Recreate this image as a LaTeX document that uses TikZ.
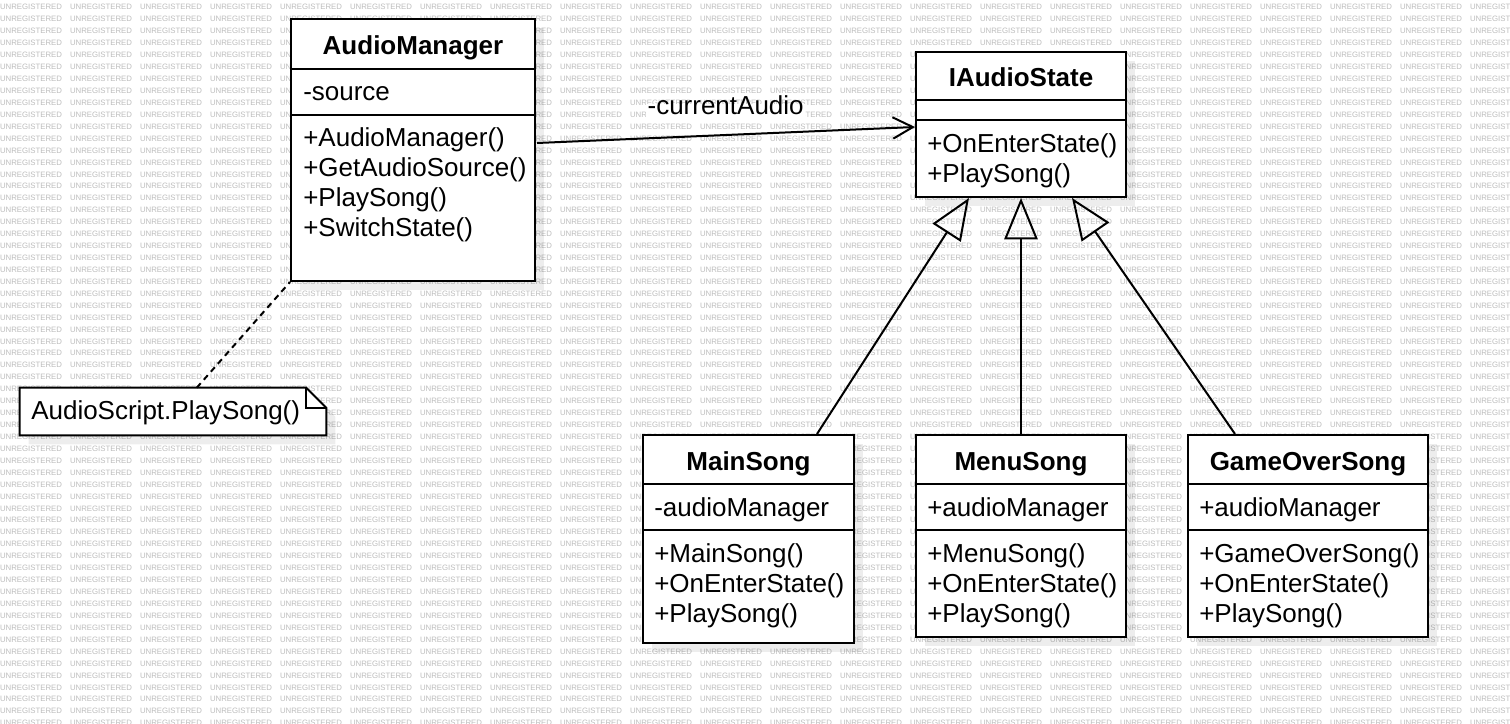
\documentclass[tikz,border=0pt]{standalone}
\usepackage{fontspec}
\setmainfont{Liberation Sans}
\usetikzlibrary{arrows.meta,fit,calc,shadows}
\begin{document}
\begin{tikzpicture}[x=0.75pt,y=-0.75pt,
  wm/.style={font=\fontsize{5.85}{6}\selectfont, text=black!26, inner sep=0pt},
  classbox/.style={draw=black, line width=1.5pt, fill=white, inner sep=0pt,
     drop shadow={shadow xshift=6.5pt, shadow yshift=-6.5pt, fill=black, opacity=0.07}},
  ttl/.style={font=\fontsize{19.5}{23}\selectfont\bfseries, inner sep=0pt, text height=0.75em, text depth=0.25em, yshift=-4.5pt},
  txt/.style={font=\fontsize{19.5}{23}\selectfont, inner sep=0pt, anchor=west, text height=0.75em, text depth=0.25em, yshift=-4.5pt},
  divider/.style={line width=1.5pt},
  assoc/.style={line width=1.5pt, -{Straight Barb[length=15pt, width=16pt, line width=1.5pt]}},
  inherit/.style={line width=1.5pt, -{Triangle[open, length=31pt, width=25pt, line width=1.5pt]}},
  anchorline/.style={line width=1.5pt, dash pattern=on 4.5pt off 3.5pt}
]
\useasboundingbox (0,0) rectangle (1510,724);
\fill[white] (0,0) rectangle (1510,724);
% watermark
\begin{scope}
\clip (0,0) rectangle (1510,724);
\foreach \r in {0,...,60} {
  \foreach \c in {0,...,21} {
    \node[wm] (wm-\r-\c) at (\c*70+31, \r*11.93+7.3) {UNREGISTERED};
  }
}
\end{scope}

% ---------- AudioManager ----------
\node[classbox, fit={(291,19) (535,281)}] (am) {};
\draw[divider] ($(am.north west)+(0,51)$) -- ($(am.north east)+(0,51)$);
\draw[divider] ($(am.north west)+(0,97)$) -- ($(am.north east)+(0,97)$);
\node[ttl] (am-t) at (413,45) {AudioManager};
\node[txt] (am-a1) at (303,91) {-source};
\node[txt] (am-m1) at (303,137) {+AudioManager()};
\node[txt] (am-m2) at (303,167) {+GetAudioSource()};
\node[txt] (am-m3) at (303,197) {+PlaySong()};
\node[txt] (am-m4) at (303,227) {+SwitchState()};

% ---------- IAudioState ----------
\node[classbox, fit={(916,52) (1126,197)}] (ias) {};
\draw[divider] ($(ias.north west)+(0,49)$) -- ($(ias.north east)+(0,49)$);
\draw[divider] ($(ias.north west)+(0,69)$) -- ($(ias.north east)+(0,69)$);
\node[ttl] (ias-t) at (1021,77) {IAudioState};
\node[txt] (ias-m1) at (927,143) {+OnEnterState()};
\node[txt] (ias-m2) at (927,173) {+PlaySong()};

% ---------- MainSong ----------
\node[classbox, fit={(643,435) (854,643)}] (ms) {};
\draw[divider] ($(ms.north west)+(0,50)$) -- ($(ms.north east)+(0,50)$);
\draw[divider] ($(ms.north west)+(0,96)$) -- ($(ms.north east)+(0,96)$);
\node[ttl] (ms-t) at (748.5,461) {MainSong};
\node[txt] (ms-a1) at (654,507) {-audioManager};
\node[txt] (ms-m1) at (654,553) {+MainSong()};
\node[txt] (ms-m2) at (654,583) {+OnEnterState()};
\node[txt] (ms-m3) at (654,613) {+PlaySong()};

% ---------- MenuSong ----------
\node[classbox, fit={(916,435) (1126,637)}] (mn) {};
\draw[divider] ($(mn.north west)+(0,50)$) -- ($(mn.north east)+(0,50)$);
\draw[divider] ($(mn.north west)+(0,96)$) -- ($(mn.north east)+(0,96)$);
\node[ttl] (mn-t) at (1021,461) {MenuSong};
\node[txt] (mn-a1) at (927,507) {+audioManager};
\node[txt] (mn-m1) at (927,553) {+MenuSong()};
\node[txt] (mn-m2) at (927,583) {+OnEnterState()};
\node[txt] (mn-m3) at (927,613) {+PlaySong()};

% ---------- GameOverSong ----------
\node[classbox, fit={(1188,435) (1428,637)}] (go) {};
\draw[divider] ($(go.north west)+(0,50)$) -- ($(go.north east)+(0,50)$);
\draw[divider] ($(go.north west)+(0,96)$) -- ($(go.north east)+(0,96)$);
\node[ttl] (go-t) at (1308,461) {GameOverSong};
\node[txt] (go-a1) at (1199,507) {+audioManager};
\node[txt] (go-m1) at (1199,553) {+GameOverSong()};
\node[txt] (go-m2) at (1199,583) {+OnEnterState()};
\node[txt] (go-m3) at (1199,613) {+PlaySong()};

% ---------- Note ----------
\node[inner sep=0pt, fit={(20,388) (326,435)}] (note) {};
\fill[black, opacity=0.07] ($(note.north west)+(9,9)$) -- ($(note.north east)+(-11,9)$) -- ($(note.north east)+(9,29)$) -- ($(note.south east)+(9,9)$) -- ($(note.south west)+(9,9)$) -- cycle;
\draw[line width=1.5pt, fill=white] (note.north west) -- ($(note.north east)+(-20,0)$) -- ($(note.north east)+(0,20)$) -- (note.south east) -- (note.south west) -- cycle;
\draw[line width=1.5pt] ($(note.north east)+(-20,0)$) -- ($(note.north east)+(-20,20)$) -- ($(note.north east)+(0,20)$);
\node[txt] (note-t) at (31,410) {AudioScript.PlaySong()};

% ---------- Connectors ----------
\draw[anchorline] ($(note.north west)+(177,0)$) -- (am.south west);
\draw[assoc] ($(am.north east)+(1,125)$) -- ($(ias.north west)+(0,76)$);
\node[txt, fill=white, inner xsep=1pt] (lbl) at (646,105) {-currentAudio};
\draw[inherit] ($(ms.north west)+(175,0)$) -- ($(ias.south west)+(54,0)$);
\draw[inherit] (mn.north) -- (ias.south);
\draw[inherit] ($(go.north west)+(48,0)$) -- ($(ias.south west)+(157,0)$);
\end{tikzpicture}
\end{document}
